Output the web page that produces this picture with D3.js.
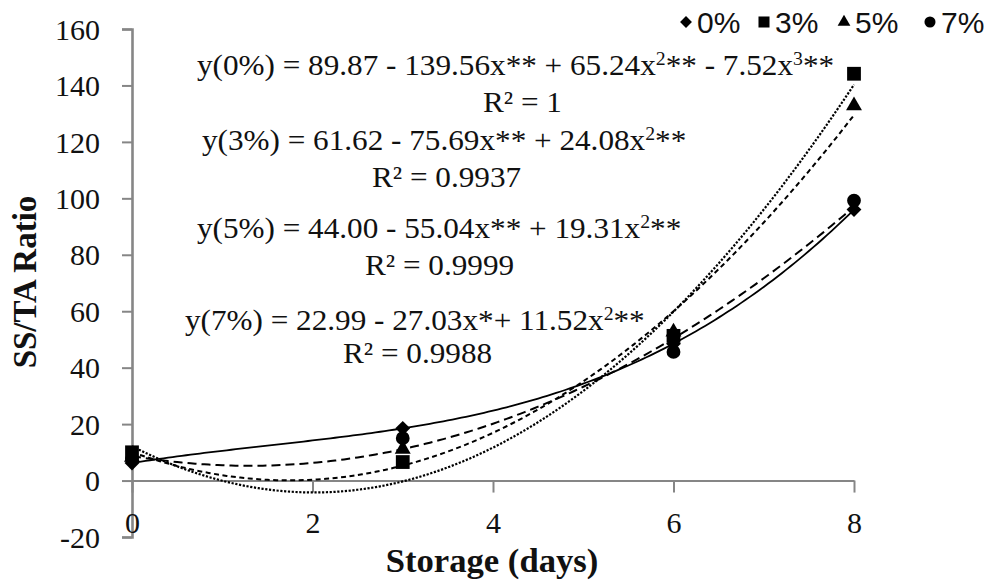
<!DOCTYPE html>
<html>
<head>
<meta charset="utf-8">
<script src="https://cdn.jsdelivr.net/npm/d3@7"></script>
<style>
  html, body { margin: 0; padding: 0; background: #fff; }
  svg { display: block; }
</style>
</head>
<body>
<svg id="chart" width="997" height="581"></svg>
<script>
// Storage day of each sampling
const days = [0, 3, 6, 8];

// Treatments and their SS/TA ratio at each storage day
const seriesNames = ["0%", "3%", "5%", "7%"];
const ratio0 = [6.2, 18.5, 48.5, 96.0];
const ratio3 = [10.01, 6.56, 51.27, 144.14];
const ratio5 = [8.27, 11.16, 52.67, 132.80];
const ratio7 = [7.48, 15.01, 45.58, 99.19];

// Polynomial order of each trendline
const trendOrder = [3, 2, 2, 2];

// Axis ticks
const xTicks = [0, 2, 4, 6, 8];
const yTicks = [-20, 0, 20, 40, 60, 80, 100, 120, 140, 160];

// Regression equations printed on the chart
const equationLines = [
  { parts: [["y(0%) = 89.87 - 139.56x** + 65.24x"], ["2", true], ["** - 7.52x"], ["3", true], ["**"]], x: 197, y: 75 },
  { parts: [["R² = 1"]], x: 483, y: 112 },
  { parts: [["y(3%) = 61.62 - 75.69x** + 24.08x"], ["2", true], ["**"]], x: 202, y: 150 },
  { parts: [["R² = 0.9937"]], x: 372, y: 187 },
  { parts: [["y(5%) = 44.00 - 55.04x** + 19.31x"], ["2", true], ["**"]], x: 197, y: 238 },
  { parts: [["R² = 0.9999"]], x: 365, y: 275 },
  { parts: [["y(7%) = 22.99 - 27.03x*+ 11.52x"], ["2", true], ["**"]], x: 185, y: 330 },
  { parts: [["R² = 0.9988"]], x: 343, y: 363 }
];

const seriesValues = [ratio0, ratio3, ratio5, ratio7];
const series = seriesNames.map((name, i) => ({
  name,
  values: seriesValues[i],
  order: trendOrder[i]
}));

const svg = d3.select("#chart");
const serif = "'Liberation Serif', 'Times New Roman', serif";
const sans = "'Liberation Sans', Arial, sans-serif";
const axisGrey = "#868686";

const x = d3.scaleLinear().domain([0, 8]).range([132, 854]);
const y = d3.scaleLinear().domain([-20, 160]).range([537, 29]);

// Least-squares polynomial fit; returns coefficients c0..cn
function polyfit(xs, ys, n) {
  const m = n + 1;
  const A = Array.from({ length: m }, () => new Array(m + 1).fill(0));
  for (let r = 0; r < m; r++) {
    for (let c = 0; c < m; c++) {
      A[r][c] = d3.sum(xs, xv => Math.pow(xv, r + c));
    }
    A[r][m] = d3.sum(xs, (xv, k) => ys[k] * Math.pow(xv, r));
  }
  for (let p = 0; p < m; p++) {
    let best = p;
    for (let r = p + 1; r < m; r++) if (Math.abs(A[r][p]) > Math.abs(A[best][p])) best = r;
    [A[p], A[best]] = [A[best], A[p]];
    for (let r = 0; r < m; r++) {
      if (r === p) continue;
      const f = A[r][p] / A[p][p];
      for (let c = p; c <= m; c++) A[r][c] -= f * A[p][c];
    }
  }
  return A.map((row, i) => row[m] / row[i]);
}
const evalPoly = (coef, xv) => coef.reduce((s, c, i) => s + c * Math.pow(xv, i), 0);

// Y axis
const yAxis = d3.axisLeft(y).tickValues(yTicks).tickSize(10).tickSizeOuter(10)
  .tickPadding(22).tickFormat(d => String(d));
const gy = svg.append("g").attr("transform", `translate(${x(0)},0)`).call(yAxis);
gy.select(".domain").attr("stroke", axisGrey).attr("stroke-width", 2.6);
gy.selectAll(".tick line").attr("stroke", axisGrey).attr("stroke-width", 2);
gy.selectAll(".tick text")
  .attr("font-family", serif).attr("font-size", 30).attr("fill", "#111")
  .attr("dy", "0.34em");

// X axis sits on the zero line
const xAxis = d3.axisBottom(x).tickValues(xTicks).tickSize(12).tickSizeOuter(0).tickFormat(d => String(d));
const gx = svg.append("g").attr("transform", `translate(0,${y(0)})`).call(xAxis);
gx.select(".domain").attr("stroke", axisGrey).attr("stroke-width", 2);
gx.selectAll(".tick line").attr("stroke", axisGrey).attr("stroke-width", 2);
gx.selectAll(".tick text")
  .attr("font-family", serif).attr("font-size", 30).attr("fill", "#111")
  .attr("y", 52).attr("dy", 0);

// Axis titles
svg.append("text")
  .attr("transform", "translate(492,572) scale(1.05,1)")
  .attr("text-anchor", "middle")
  .attr("font-family", serif).attr("font-weight", "bold").attr("font-size", 33)
  .attr("fill", "#111")
  .text("Storage (days)");

svg.append("text")
  .attr("transform", "translate(36,282) rotate(-90)")
  .attr("text-anchor", "middle")
  .attr("font-family", serif).attr("font-weight", "bold").attr("font-size", 33)
  .attr("fill", "#111")
  .text("SS/TA Ratio");

// Trendlines: 0% solid, 3% dotted, 5% short dash, 7% long dash
const dashes = [null, "2.2,1.6", "5,3.5", "9,5"];
const line = d3.line().x(d => x(d[0])).y(d => y(d[1]));
series.forEach((s, i) => {
  const coef = polyfit(days, s.values, s.order);
  const pts = d3.range(0, 8.0001, 0.05).map(t => [t, evalPoly(coef, t)]);
  svg.append("path")
    .datum(pts)
    .attr("d", line)
    .attr("fill", "none")
    .attr("stroke", "#000")
    .attr("stroke-width", i === 0 ? 1.8 : (i === 1 ? 2.2 : 2))
    .attr("stroke-dasharray", dashes[i]);
});

// Marker shapes per treatment
function markerPath(i, scale) {
  const k = scale || 1;
  if (i === 0) return d3.symbol(d3.symbolSquare, 110 * k * k)();
  if (i === 1) return d3.symbol(d3.symbolSquare, 190 * k * k)();
  if (i === 2) return d3.symbol(d3.symbolTriangle, 110 * k * k)();
  return d3.symbol(d3.symbolCircle, 150 * k * k)();
}
function markerTransform(i, cx, cy) {
  return i === 0 ? `translate(${cx},${cy}) rotate(45)` : `translate(${cx},${cy})`;
}

series.forEach((s, i) => {
  svg.append("g").selectAll("path")
    .data(s.values.map((v, k) => [days[k], v]))
    .join("path")
    .attr("d", markerPath(i))
    .attr("transform", d => markerTransform(i, x(d[0]), y(d[1])))
    .attr("fill", "#000");
});

// Equations
const eq = svg.append("g").attr("font-family", serif).attr("font-size", 30).attr("fill", "#111");
equationLines.forEach(l => {
  const t = eq.append("text")
    .attr("transform", `translate(${l.x},${l.y}) scale(1.04,1)`);
  l.parts.forEach(p => {
    const span = t.append("tspan").text(p[0]);
    if (p[1]) span.attr("font-size", 19).attr("baseline-shift", "55%");
  });
});

// Legend
const legendX = [686, 764, 844, 930];
const legend = svg.append("g");
series.forEach((s, i) => {
  const g = legend.append("g");
  g.append("path")
    .attr("d", markerPath(i, 0.8))
    .attr("transform", markerTransform(i, legendX[i], 22))
    .attr("fill", "#000");
  g.append("text")
    .attr("x", legendX[i] + 11).attr("y", 33)
    .attr("font-family", sans).attr("font-size", 30).attr("fill", "#111")
    .text(s.name);
});
</script>
</body>
</html>
